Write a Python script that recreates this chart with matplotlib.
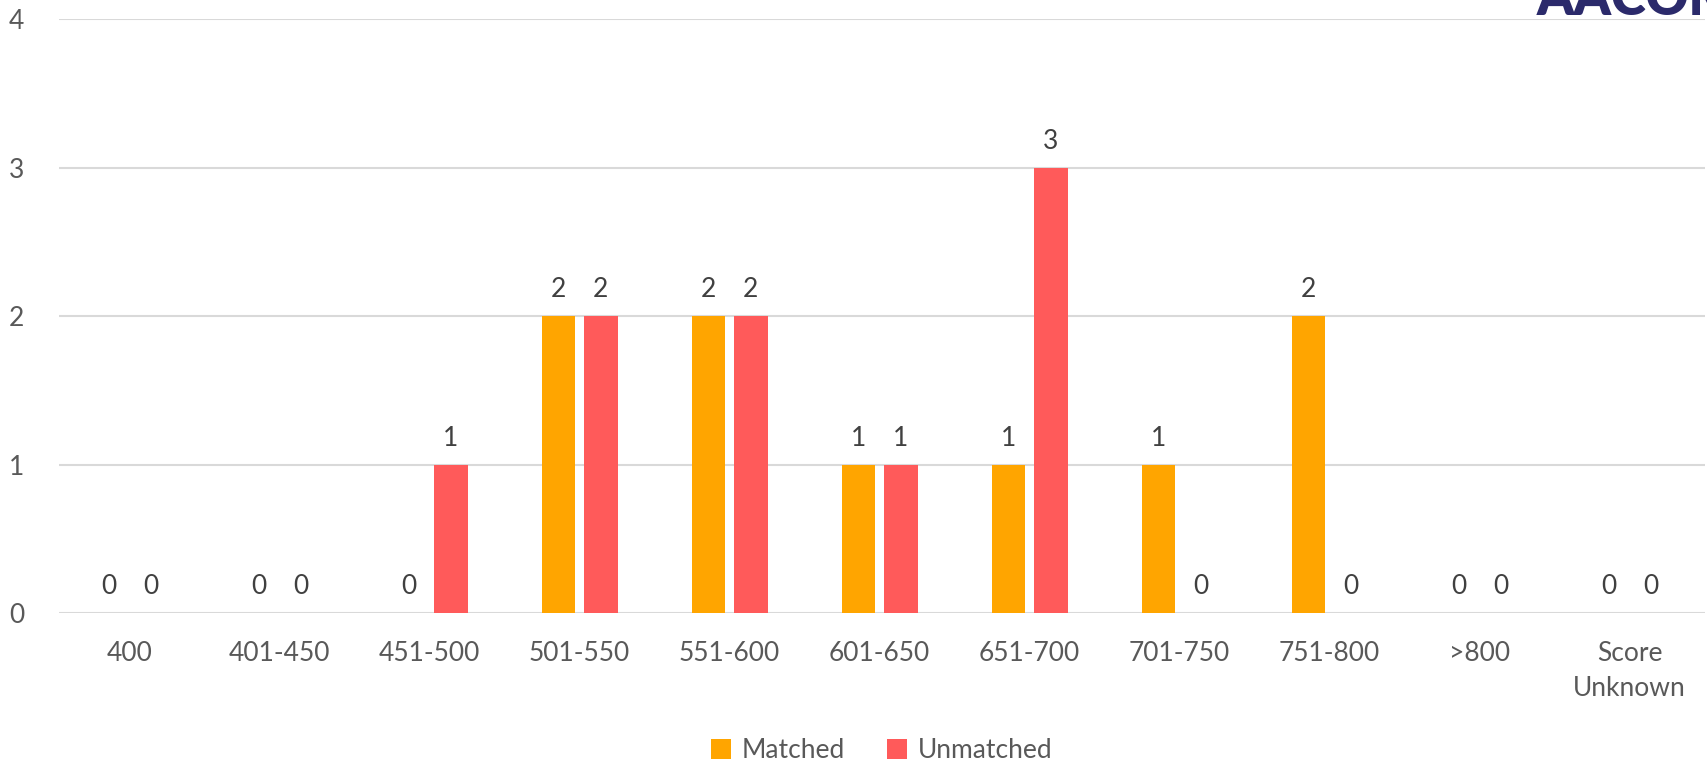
import numpy as np
import matplotlib.pyplot as plt

# Data
categories = ['400', '401-450', '451-500', '501-550', '551-600', '601-650',
              '651-700', '701-750', '751-800', '>800', 'Score\nUnknown']
matched = [0, 0, 0, 2, 2, 1, 1, 1, 2, 0, 0]
unmatched = [0, 0, 1, 2, 2, 1, 3, 0, 0, 0, 0]

plt.rcParams['font.family'] = ['Lato', 'DejaVu Sans']
text_col = '#595959'

fig = plt.figure(figsize=(17.07, 7.70), dpi=100)
ax = fig.add_axes([0.0346, 0.204, 0.964, 0.771])

x = np.arange(len(categories))
w = 0.225
off = 0.141
b1 = ax.bar(x - off, matched, w, color='#FFA500', label='Matched', zorder=3)
b2 = ax.bar(x + off, unmatched, w, color='#FF5A5A', label='Unmatched', zorder=3)

for bars in (b1, b2):
    for rect in bars:
        h = rect.get_height()
        ax.annotate(f'{int(h)}', (rect.get_x() + rect.get_width() / 2, h),
                    xytext=(0, 10), textcoords='offset points',
                    ha='center', va='bottom', fontsize=19, color='#404040')

ax.set_xlim(-0.47, 10.5)
ax.set_ylim(0, 4)
ax.set_yticks([0, 1, 2, 3, 4])
ax.set_xticks(x)
ax.set_xticklabels(categories, linespacing=1.5)
ax.tick_params(axis='x', length=0, pad=20, labelsize=19, labelcolor=text_col)
ax.tick_params(axis='y', length=0, pad=25, labelsize=19, labelcolor=text_col)
ax.grid(axis='y', color='#D9D9D9', linewidth=1.5, zorder=0)
for s in ax.spines.values():
    s.set_visible(False)

ax.legend(loc='center', bbox_to_anchor=(0.5, -0.232), ncol=2, frameon=False,
          fontsize=19, labelcolor=text_col, handlelength=0.75, handleheight=0.75,
          handletextpad=0.4, columnspacing=1.6)

# partially visible logo in the corner
fig.text(0.9, 1 - 15 / 770, 'AACOM', fontsize=38, fontweight='heavy',
         color='#2B2A6B', ha='left', va='baseline')

fig.savefig('out.png', dpi=100)
